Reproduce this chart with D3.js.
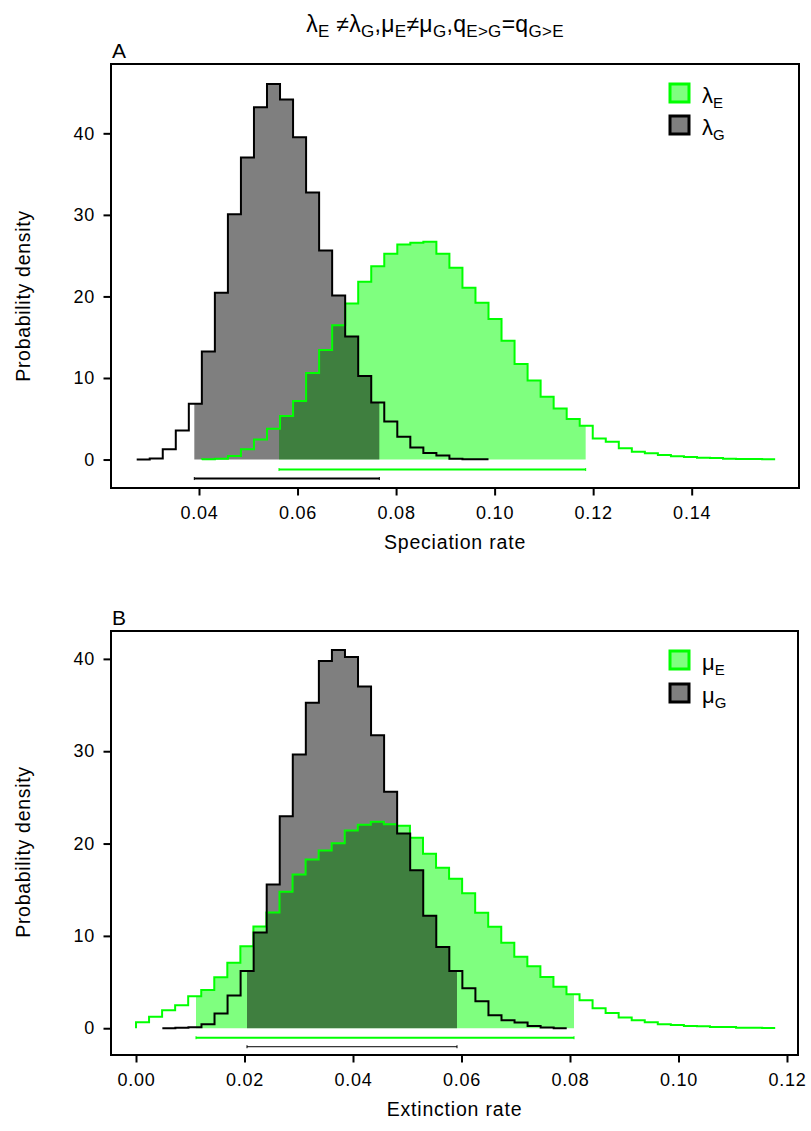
<!DOCTYPE html>
<html>
<head>
<meta charset="utf-8">
<script src="https://cdn.jsdelivr.net/npm/d3@7"></script>
<style>
  body { margin: 0; background: #fff; }
  svg text { font-family: "Liberation Sans", Arial, Helvetica, sans-serif; fill: #000; }
</style>
</head>
<body>
<div id="chart"></div>
<script>
// posterior densities, one value per histogram bin
var lambdaE = [0.02, 0.1, 0.43, 1.25, 2.47, 3.78, 5.33, 7.17, 10.6, 13.42, 16.48, 19.14, 21.79, 23.71,
  25.22, 26.37, 26.57, 26.7, 25.22, 23.51, 21.06, 19.22, 17.22, 14.56, 11.7, 9.7, 7.7, 6.27, 4.96,
  4.15, 2.59, 2.19, 1.37, 0.96, 0.76, 0.55, 0.39, 0.31, 0.22, 0.18, 0.1, 0.06, 0.06, 0.02];
var lambdaG = [0.0, 0.14, 1.25, 3.57, 6.84, 13.26, 20.45, 30.09, 37.03, 43.2, 46.06, 44.14, 39.52,
  32.74, 25.63, 20.12, 15.09, 10.23, 7.0, 4.66, 2.8, 1.47, 0.8, 0.5, 0.1, 0.02, 0.02];
var muE = [0.65, 1.23, 1.95, 2.49, 3.47, 4.15, 5.53, 7.08, 8.88, 11.01, 12.53, 14.77, 16.65, 18.27,
  19.25, 20.04, 21.42, 22.03, 22.35, 22.1, 21.92, 20.62, 18.89, 17.37, 16.18, 14.63, 12.5, 10.98,
  9.25, 7.73, 6.72, 5.56, 4.48, 3.68, 3.03, 2.17, 1.66, 1.16, 0.87, 0.65, 0.43, 0.36, 0.25, 0.22,
  0.14, 0.12, 0.04, 0.04, 0.03];
var muG = [0, 0.04, 0.1, 0.43, 1.59, 3.54, 6.21, 10.36, 15.57, 22.97, 29.65, 35.25, 39.76, 40.95,
  40.2, 37.02, 31.74, 25.6, 21.09, 17.12, 12.17, 8.81, 6.21, 4.33, 2.93, 1.41, 0.87, 0.61, 0.25,
  0.07, 0.0];

// histogram breaks: first break and bin width
var lambdaEStart = 0.040578, lambdaGStart = 0.027355, lambdaBin = 0.0026446;
var muEStart = 0.0, muGStart = 0.004854, muBin = 0.0024046;

// 95% HPD intervals
var hpdLambdaE = [0.05624, 0.11848], hpdLambdaG = [0.03905, 0.0766];
var hpdMuE = [0.01106, 0.08074], hpdMuG = [0.02046, 0.05917];

var speciationTicks = [0.04, 0.06, 0.08, 0.10, 0.12, 0.14];
var extinctionTicks = [0.00, 0.02, 0.04, 0.06, 0.08, 0.10, 0.12];
var densityTicks = [0, 10, 20, 30, 40];

var GREEN = "#00ff00";
var GREEN_FILL = "rgba(0,255,0,0.5)";
var GREY_FILL = "rgba(0,0,0,0.5)";

var svg = d3.select("#chart")
  .append("svg")
  .attr("width", 811)
  .attr("height", 1131);

// text with subscripts, parts = [[text, isSub], ...]
function richText(g, parts, size, subSize, shift) {
  var t = g.append("text");
  var lowered = false;
  parts.forEach(function (p) {
    var ts = t.append("tspan").text(p[0]).attr("font-size", p[1] ? subSize : size);
    if (p[1] && !lowered) { ts.attr("dy", shift); lowered = true; }
    else if (!p[1] && lowered) { ts.attr("dy", -shift); lowered = false; }
  });
  return t;
}

richText(svg, [["λ", 0], ["E", 1], [" ≠", 0], ["λ", 0], ["G", 1], [",μ", 0], ["E", 1], ["≠μ", 0],
  ["G", 1], [",q", 0], ["E>G", 1], ["=q", 0], ["G>E", 1]], 23, 17, 5)
  .attr("x", 435).attr("y", 32).attr("text-anchor", "middle")
  .style("letter-spacing", "0.3px");

function drawPanel(p) {
  var x = d3.scaleLinear().domain(p.xDomain).range([p.left, p.right]);
  var y = d3.scaleLinear().domain(p.yDomain).range([p.bottom, p.top]);
  var g = svg.append("g");

  g.append("text").attr("x", p.left + 1).attr("y", p.top - 6)
    .attr("font-size", 21).text(p.letter);

  var stepLine = d3.line()
    .x(function (d) { return x(d[0]); })
    .y(function (d) { return y(d[1]); })
    .curve(d3.curveStepAfter);

  var hpdArea = d3.area()
    .x(function (d) { return x(d[0]); })
    .y0(y(0))
    .y1(function (d) { return y(d[1]); })
    .curve(d3.curveStepAfter);

  function linePoints(s) {
    var pts = [[s.start, 0]];
    s.values.forEach(function (v, i) { pts.push([s.start + i * s.bin, v]); });
    pts.push([s.start + s.values.length * s.bin, s.values[s.values.length - 1]]);
    return pts;
  }

  function hpdPoints(s) {
    var pts = [], last = 0;
    s.values.forEach(function (v, i) {
      var a = s.start + i * s.bin, b = a + s.bin;
      if (b > s.hpd[0] && a < s.hpd[1]) { pts.push([Math.max(a, s.hpd[0]), v]); last = v; }
    });
    pts.push([s.hpd[1], last]);
    return pts;
  }

  p.series.forEach(function (s) {
    g.append("path").attr("d", hpdArea(hpdPoints(s))).attr("fill", s.fill);
  });
  p.series.forEach(function (s) {
    g.append("path").attr("d", stepLine(linePoints(s)))
      .attr("fill", "none").attr("stroke", s.color).attr("stroke-width", 2);
  });

  // HPD bars under the histograms
  p.series.forEach(function (s) {
    var by = y(0) + s.barOffset;
    g.append("line").attr("x1", x(s.hpd[0])).attr("x2", x(s.hpd[1]))
      .attr("y1", by).attr("y2", by)
      .attr("stroke", s.color).attr("stroke-width", s.barWidth);
    s.hpd.forEach(function (h) {
      g.append("line").attr("x1", x(h)).attr("x2", x(h))
        .attr("y1", by - 1.5).attr("y2", by + 1.5)
        .attr("stroke", s.color).attr("stroke-width", 1);
    });
  });

  var xAxis = g.append("g")
    .attr("transform", "translate(0," + p.bottom + ")")
    .call(d3.axisBottom(x).tickValues(p.xTicks).tickFormat(d3.format(".2f"))
      .tickSize(7.5).tickPadding(10.5));
  var yAxis = g.append("g")
    .attr("transform", "translate(" + p.left + ",0)")
    .call(d3.axisLeft(y).tickValues(densityTicks).tickSize(7.5).tickPadding(8.5));
  [xAxis, yAxis].forEach(function (a) {
    a.select(".domain").remove();
    a.selectAll("line").attr("stroke", "#000").attr("stroke-width", 2);
    a.selectAll("text").attr("font-size", 18).attr("fill", "#000")
      .style("letter-spacing", "0.8px");
    a.attr("font-family", null);
  });

  g.append("rect")
    .attr("x", p.left).attr("y", p.top)
    .attr("width", p.right - p.left).attr("height", p.bottom - p.top)
    .attr("fill", "none").attr("stroke", "#000").attr("stroke-width", 2);

  g.append("text")
    .attr("x", (p.left + p.right) / 2).attr("y", p.bottom + 61)
    .attr("text-anchor", "middle").attr("font-size", 19.5)
    .style("letter-spacing", "0.8px")
    .text(p.xLabel);

  g.append("text")
    .attr("transform", "translate(30," + p.yLabelCenter + ") rotate(-90)")
    .attr("text-anchor", "middle").attr("font-size", 19.5)
    .style("letter-spacing", "0.7px")
    .text("Probability density");

  // legend
  p.series.forEach(function (s, i) {
    var ly = p.legendTop + i * p.legendGap;
    g.append("rect").attr("x", 670).attr("y", ly).attr("width", 19).attr("height", 18)
      .attr("fill", s.fill).attr("stroke", s.color).attr("stroke-width", 3);
    richText(g, [[p.symbol, 0], [s.sub, 1]], 22, 15, 5)
      .attr("x", 702).attr("y", ly + 19);
  });
}

drawPanel({
  letter: "A", symbol: "λ", xLabel: "Speciation rate",
  left: 111, right: 799, top: 64, bottom: 488,
  xDomain: [0.022139, 0.16178], yDomain: [-3.49, 48.5],
  xTicks: speciationTicks, yLabelCenter: 296,
  legendTop: 84, legendGap: 32,
  series: [
    { sub: "E", values: lambdaE, start: lambdaEStart, bin: lambdaBin, hpd: hpdLambdaE,
      color: GREEN, fill: GREEN_FILL, barOffset: 10, barWidth: 2 },
    { sub: "G", values: lambdaG, start: lambdaGStart, bin: lambdaBin, hpd: hpdLambdaG,
      color: "#000", fill: GREY_FILL, barOffset: 19, barWidth: 2 }
  ]
});

drawPanel({
  letter: "B", symbol: "μ", xLabel: "Extinction rate",
  left: 111, right: 798, top: 631, bottom: 1055,
  xDomain: [-0.00461, 0.12203], yDomain: [-2.9, 43.02],
  xTicks: extinctionTicks, yLabelCenter: 852,
  legendTop: 651, legendGap: 33,
  series: [
    { sub: "E", values: muE, start: muEStart, bin: muBin, hpd: hpdMuE,
      color: GREEN, fill: GREEN_FILL, barOffset: 9.5, barWidth: 2 },
    { sub: "G", values: muG, start: muGStart, bin: muBin, hpd: hpdMuG,
      color: "#000", fill: GREY_FILL, barOffset: 18.5, barWidth: 1 }
  ]
});
</script>
</body>
</html>
